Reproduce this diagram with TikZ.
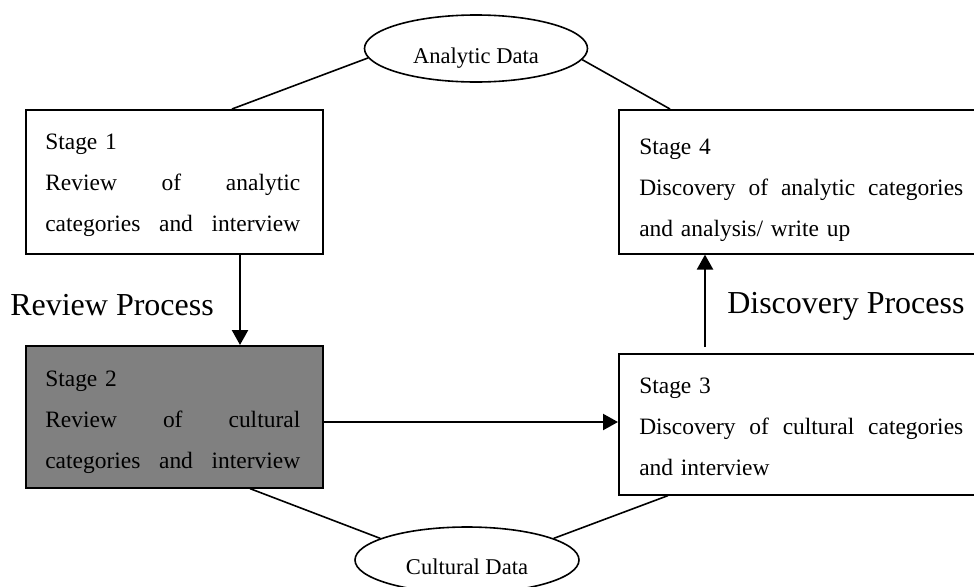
\documentclass[tikz,border=0pt]{standalone}
\usepackage{fontspec}
\setmainfont{Liberation Serif}
\usetikzlibrary{shapes.geometric,arrows.meta,calc}
\definecolor{stagegray}{RGB}{128,128,128}
\begin{document}
\begin{tikzpicture}[x=0.75pt,y=-0.75pt,
  stagebox/.style={draw, line width=1.2pt, rectangle, inner sep=0pt, anchor=north west},
  stagetext/.style={anchor=base west, inner sep=0pt, align=left,
    font=\fontsize{17.6}{31.1}\selectfont},
  datablob/.style={draw, ellipse, line width=1.2pt, inner sep=0pt},
  datatext/.style={anchor=base, inner sep=0pt, font=\fontsize{16.9}{20}\selectfont},
  procname/.style={anchor=base west, inner sep=0pt, font=\fontsize{24}{28}\selectfont},
  link/.style={line width=1.2pt},
  flow/.style={line width=1.7pt, -{Triangle[length=11.25pt,width=12pt]}}]
  \useasboundingbox (0,0) rectangle (974,586);
  \clip (0,0) rectangle (974,586);

  % stage boxes
  \node[stagebox, minimum width=222.75pt, minimum height=108pt] (s1) at (25,109) {};
  \node[stagebox, fill=stagegray, minimum width=222.75pt, minimum height=106.5pt] (s2) at (25,345) {};
  \node[stagebox, minimum width=270pt, minimum height=105.75pt] (s3) at (618,353) {};
  \node[stagebox, minimum width=270pt, minimum height=108pt] (s4) at (618,109) {};

  % stage texts
  \node[stagetext, text width=191.25pt] (t1) at ($(s1.north west)+(20,40)$)
    {Stage 1\\ Review\hfill of\hfill analytic\\ categories\hfill and\hfill interview};
  \node[stagetext, text width=191.25pt] (t2) at ($(s2.north west)+(20,41)$)
    {Stage 2\\ Review\hfill of\hfill cultural\\ categories\hfill and\hfill interview};
  \node[stagetext, text width=243pt] (t3) at ($(s3.north west)+(21,40)$)
    {Stage 3\\ Discovery\hfill of\hfill cultural\hfill categories\\ and interview};
  \node[stagetext, text width=243pt] (t4) at ($(s4.north west)+(21,45)$)
    {Stage 4\\ Discovery\hfill of\hfill analytic\hfill categories\\ and analysis/ write up};

  % data ellipses
  \node[datablob, minimum width=167.25pt, minimum height=50.25pt] (ad) at (476,48.5) {};
  \node[datatext] (adt) at ($(ad.center)+(0,14.5)$) {Analytic Data};
  \node[datablob, minimum width=168pt, minimum height=49.5pt] (cd) at (467,560) {};
  \node[datatext] (cdt) at ($(cd.center)+(0,14)$) {Cultural Data};

  % links to the data
  \draw[link] (ad.185) -- ($(s1.north west)+(207,0)$);
  \draw[link] (ad.-6) -- ($(s4.north west)+(52,0)$);
  \draw[link] ($(s2.south west)+(225,0)$) -- (cd.166);
  \draw[link] ($(s3.south west)+(50,0)$) -- (cd.14);

  % process flow
  \draw[flow] ($(s1.south west)+(215,0)$) -- ($(s2.north west)+(215,0)$);
  \draw[flow] ($(s2.north east)+(0,77)$) -- ($(s3.north west)+(0,69)$);
  \draw[flow] ($(s3.north west)+(87,-6)$) -- ($(s4.south west)+(87,0)$);

  % process names
  \node[procname] (rp) at (10,315) {Review Process};
  \node[procname] (dp) at (727,313) {Discovery Process};
\end{tikzpicture}
\end{document}
